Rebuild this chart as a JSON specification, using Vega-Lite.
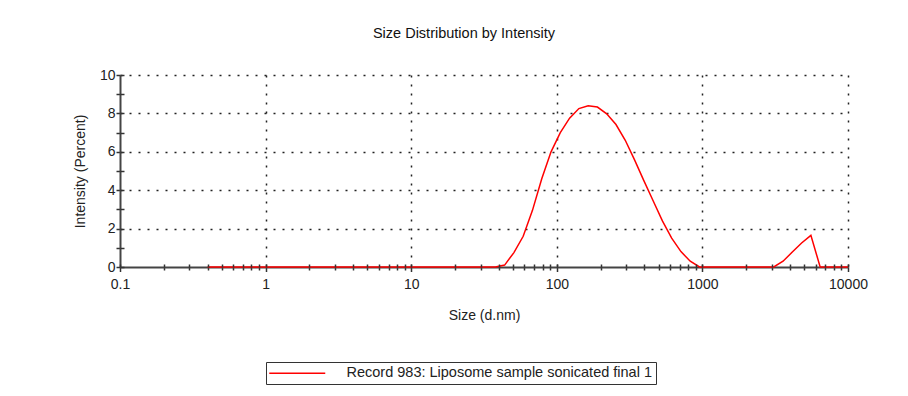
{
  "$schema": "https://vega.github.io/schema/vega-lite/v6.json",
  "autosize": "none",
  "padding": {"left": 120, "top": 75, "right": 60, "bottom": 129},
  "width": 728,
  "height": 192,
  "background": "white",
  "config": {"font": "Liberation Sans", "view": {"stroke": null}},
  "title": {"text": "Size Distribution by Intensity", "fontSize": 14.5, "fontWeight": "normal", "color": "#111", "font": "Liberation Sans", "anchor": "middle", "dx": -20, "offset": 27},
  "data": {"values": [
    {"size": 0.4, "intensity": 0}, {"size": 0.4632, "intensity": 0}, {"size": 0.5365, "intensity": 0}, {"size": 0.6213, "intensity": 0},
    {"size": 0.7195, "intensity": 0}, {"size": 0.8332, "intensity": 0}, {"size": 0.9649, "intensity": 0}, {"size": 1.117, "intensity": 0},
    {"size": 1.294, "intensity": 0}, {"size": 1.499, "intensity": 0}, {"size": 1.736, "intensity": 0}, {"size": 2.01, "intensity": 0},
    {"size": 2.328, "intensity": 0}, {"size": 2.696, "intensity": 0}, {"size": 3.122, "intensity": 0}, {"size": 3.615, "intensity": 0},
    {"size": 4.187, "intensity": 0}, {"size": 4.849, "intensity": 0}, {"size": 5.615, "intensity": 0}, {"size": 6.503, "intensity": 0},
    {"size": 7.531, "intensity": 0}, {"size": 8.721, "intensity": 0}, {"size": 10.1, "intensity": 0}, {"size": 11.7, "intensity": 0},
    {"size": 13.54, "intensity": 0}, {"size": 15.69, "intensity": 0}, {"size": 18.17, "intensity": 0}, {"size": 21.04, "intensity": 0},
    {"size": 24.36, "intensity": 0}, {"size": 28.21, "intensity": 0}, {"size": 32.67, "intensity": 0}, {"size": 37.84, "intensity": 0},
    {"size": 43.82, "intensity": 0.1}, {"size": 50.75, "intensity": 0.75}, {"size": 58.77, "intensity": 1.6}, {"size": 68.06, "intensity": 2.95},
    {"size": 78.82, "intensity": 4.6}, {"size": 91.28, "intensity": 6.0}, {"size": 105.7, "intensity": 7.0}, {"size": 122.4, "intensity": 7.75},
    {"size": 141.8, "intensity": 8.25}, {"size": 164.2, "intensity": 8.4}, {"size": 190.1, "intensity": 8.33}, {"size": 220.2, "intensity": 7.98},
    {"size": 255, "intensity": 7.42}, {"size": 295.3, "intensity": 6.6}, {"size": 342, "intensity": 5.58}, {"size": 396.1, "intensity": 4.5},
    {"size": 458.7, "intensity": 3.45}, {"size": 531.2, "intensity": 2.4}, {"size": 615.1, "intensity": 1.5}, {"size": 712.4, "intensity": 0.8},
    {"size": 825, "intensity": 0.3}, {"size": 955.4, "intensity": 0}, {"size": 1106, "intensity": 0}, {"size": 1281, "intensity": 0},
    {"size": 1484, "intensity": 0}, {"size": 1718, "intensity": 0}, {"size": 1990, "intensity": 0}, {"size": 2305, "intensity": 0},
    {"size": 2669, "intensity": 0}, {"size": 3091, "intensity": 0}, {"size": 3580, "intensity": 0.3}, {"size": 4145, "intensity": 0.78},
    {"size": 4801, "intensity": 1.25}, {"size": 5560, "intensity": 1.65}, {"size": 6439, "intensity": 0}, {"size": 7456, "intensity": 0},
    {"size": 8635, "intensity": 0}, {"size": 10000, "intensity": 0}
  ]},
  "layer": [
    {
      "mark": {"type": "line", "strokeWidth": 1.5},
      "encoding": {
        "x": {
          "field": "size", "type": "quantitative",
          "scale": {"type": "log", "domain": [0.1, 10000], "nice": false},
          "axis": {
            "orient": "bottom",
            "values": [0.1, 0.2, 0.3, 0.4, 0.5, 0.6, 0.7, 0.8, 0.9, 1, 2, 3, 4, 5, 6, 7, 8, 9, 10, 20, 30, 40, 50, 60, 70, 80, 90, 100, 200, 300, 400, 500, 600, 700, 800, 900, 1000, 2000, 3000, 4000, 5000, 6000, 7000, 8000, 9000, 10000],
            "labelExpr": "indexof([0.1,1,10,100,1000,10000], datum.value) >= 0 ? '' + datum.value : ''",
            "labelOverlap": false, "labelFlush": false, "labelBound": false,
            "labelFontSize": 14, "labelColor": "#222", "labelPadding": 6,
            "tickSize": {"condition": {"test": "indexof([0.1,1,10,100,1000,10000], datum.value) >= 0", "value": 4.5}, "value": 3},
            "tickColor": "#333", "tickWidth": 1.5,
            "domainColor": "#444", "domainWidth": 2,
            "grid": true, "gridDash": [2, 7], "gridColor": "#222", "gridWidth": 1.5,
            "gridOpacity": {"condition": {"test": "indexof([1,10,100,1000,10000], datum.value) >= 0", "value": 1}, "value": 0},
            "title": "Size (d.nm)", "titleFontSize": 14, "titleFontWeight": "normal", "titleColor": "#222", "titlePadding": 17
          }
        },
        "y": {
          "field": "intensity", "type": "quantitative",
          "scale": {"domain": [0, 10], "nice": false},
          "axis": {
            "orient": "left",
            "values": [0, 1, 2, 3, 4, 5, 6, 7, 8, 9, 10],
            "labelExpr": "datum.value % 2 == 0 ? '' + datum.value : ''",
            "labelFontSize": 14, "labelColor": "#222", "labelPadding": 1,
            "tickSize": 4, "tickColor": "#333", "tickWidth": 1.5,
            "domainColor": "#444", "domainWidth": 2,
            "grid": true, "gridDash": [2, 7], "gridColor": "#222", "gridWidth": 1.5,
            "gridOpacity": {"condition": {"test": "datum.value % 2 == 0 && datum.value > 0", "value": 1}, "value": 0},
            "title": "Intensity (Percent)", "titleFontSize": 14, "titleFontWeight": "normal", "titleColor": "#222", "titlePadding": 12
          }
        },
        "color": {
          "datum": "Record 983: Liposome sample sonicated final 1",
          "type": "nominal",
          "scale": {"range": ["#ff0000"]},
          "legend": {
            "orient": "none", "legendX": 146, "legendY": 287, "title": null,
            "symbolType": "M-2,0H12", "symbolSize": 64, "symbolStrokeWidth": 1.5,
            "labelFontSize": 14.5, "labelColor": "#222", "labelLimit": 600, "labelOffset": 62,
            "strokeColor": "#333", "fillColor": "white", "padding": 4
          }
        }
      }
    },
    {
      "mark": {"type": "line", "opacity": 0},
      "encoding": {
        "x": {
          "field": "size", "type": "quantitative",
          "axis": {
            "orient": "bottom", "offset": -3, "zindex": 1,
            "values": [0.1, 0.2, 0.3, 0.4, 0.5, 0.6, 0.7, 0.8, 0.9, 1, 2, 3, 4, 5, 6, 7, 8, 9, 10, 20, 30, 40, 50, 60, 70, 80, 90, 100, 200, 300, 400, 500, 600, 700, 800, 900, 1000, 2000, 3000, 4000, 5000, 6000, 7000, 8000, 9000, 10000],
            "labels": false, "domain": false, "grid": false, "title": null,
            "tickSize": 3, "tickColor": "#333", "tickWidth": 1.5
          }
        },
        "y": {
          "field": "intensity", "type": "quantitative",
          "axis": {
            "orient": "left", "offset": -4, "zindex": 1,
            "values": [0, 1, 2, 3, 4, 5, 6, 7, 8, 9, 10],
            "labels": false, "domain": false, "grid": false, "title": null,
            "tickSize": 4, "tickColor": "#333", "tickWidth": 1.5
          }
        }
      }
    }
  ],
  "resolve": {"axis": {"x": "independent", "y": "independent"}}
}
